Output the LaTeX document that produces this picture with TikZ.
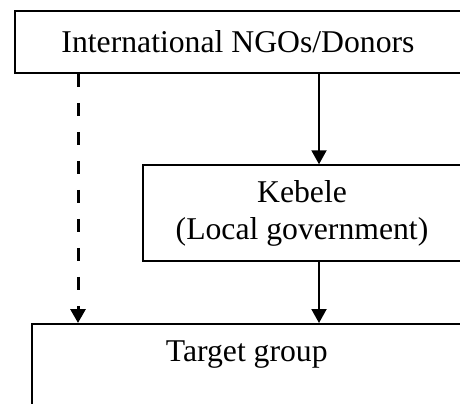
\documentclass[tikz,border=0pt]{standalone}
\usepackage{fontspec}
\setmainfont{Liberation Serif}
\usepackage{tikz}
\usetikzlibrary{positioning,arrows.meta}

\begin{document}
\begin{tikzpicture}[x=0.5pt,y=-0.5pt]
                \tikzstyle{box} = [rectangle, draw=black, line width=0.75pt, inner sep=0pt, align=center, font=\fontsize{15.85pt}{18.5pt}\selectfont]
                \tikzstyle{label} = [inner sep=0pt, font=\fontsize{15.85pt}{18.5pt}\selectfont]
                \tikzstyle{arrow} = [line width=1pt,-{Triangle[width=7.5pt,length=7pt]}]
                \tikzstyle{dasharrow} = [line width=1.5pt,dash pattern=on 6.5pt off 8pt,-{Triangle[width=7.5pt,length=7pt]}]
                \useasboundingbox (0,0) rectangle (460,403);
                \clip (0,0) rectangle (460,403);
                \node (donors) [box, minimum width=223pt, minimum height=31pt] at (238,42) {International NGOs/Donors};
                \node (kebele) [box, minimum width=159pt, minimum height=48pt] at (302,213) {Kebele\\(Local government)};
                \node (target) [box, minimum width=215pt, minimum height=80pt, anchor=north west] at (31,323) {};
                \node (targettext) [label, anchor=base] at ([yshift=-19pt]target.north) {Target group};
                \coordinate (mainline) at (319,0);
                \coordinate (sideline) at (78,0);

                \draw [arrow] (donors.south -| mainline) -- (kebele.north -| mainline);
                \draw [arrow] (kebele.south -| mainline) -- (target.north -| mainline);
                \draw [dasharrow] (donors.south -| sideline) -- (target.north -| sideline);
            \end{tikzpicture}
\end{document}
